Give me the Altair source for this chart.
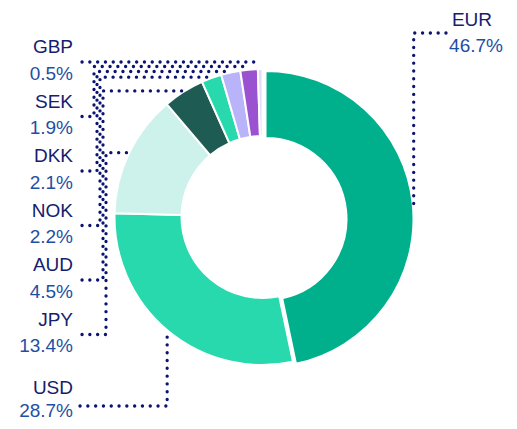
import math
import altair as alt
import pandas as pd

# ---------------- data ----------------
currencies = ["EUR", "USD", "JPY", "AUD", "NOK", "DKK", "SEK", "GBP"]
shares = [46.7, 28.7, 13.4, 4.5, 2.2, 2.1, 1.9, 0.5]
slice_colors = ["#00b08d", "#28d9ae", "#cdf2eb", "#1e5b52",
                "#28d9ae", "#b9b3fa", "#9b52d0", "#e1dcfc"]
# left column of labels, top to bottom
left_order = ["GBP", "SEK", "DKK", "NOK", "AUD", "JPY"]

# ---------------- layout ----------------
W, H = 501, 413
CX, CY = 254.5, 209.0
R_OUT, R_IN = 148, 81
EXPLODE = (3.0, 2.0)           # EUR slice pulled out a little
NAME_COLOR = "#14206e"
PCT_COLOR = "#1f4fa3"
DOT_COLOR = "#0b1470"
FONT = "Liberation Sans"
FS = 19

total = sum(shares)
mid_angle = {}
cum = 0.0
for c, s in zip(currencies, shares):
    mid_angle[c] = 2 * math.pi * (cum + s / 2) / total
    cum += s


def anchor(c, r=R_OUT + 1):
    a = mid_angle[c]
    dx, dy = EXPLODE if c == "EUR" else (0.0, 0.0)
    return CX + dx + r * math.sin(a), CY + dy - r * math.cos(a)


# label positions
name_y = {}
for i, c in enumerate(left_order):
    name_y[c] = 39 + i * 54.5
name_y["USD"] = 380
LEFT_TEXT_X = 65

pct_of = {c: f"{s:.1f}%" for c, s in zip(currencies, shares)}

texts_right = []
for c in left_order + ["USD"]:
    ny = name_y[c]
    py = ny + (23 if c == "USD" else 26.5)
    texts_right.append({"x": LEFT_TEXT_X, "y": ny, "t": c, "col": NAME_COLOR})
    texts_right.append({"x": LEFT_TEXT_X, "y": py, "t": pct_of[c], "col": PCT_COLOR})
texts_center = [
    {"x": 464, "y": 12, "t": "EUR", "col": NAME_COLOR},
    {"x": 468, "y": 38, "t": pct_of["EUR"], "col": PCT_COLOR},
]

# connector paths
paths = []
ays = {}
nxt = None
for c in reversed(left_order):
    ax, ay = anchor(c)
    if nxt is not None:
        ay = min(ay, nxt - 5)
    ays[c] = (ax, ay)
    nxt = ay
vxs = {"GBP": 86, "SEK": 86, "DKK": 89, "NOK": 92, "AUD": 95, "JPY": 98}
for c in left_order:
    ly = name_y[c] + 15
    ax, ay = ays[c]
    if c == "GBP":
        ay = ly
    pts = [(74, ly), (vxs[c], ly), (vxs[c], ay), (ax, ay)]
    for k, (px, py) in enumerate(pts):
        paths.append({"id": c, "k": k, "x": px, "y": py})
# USD
ax, ay = anchor("USD")
ly = 398
for k, (px, py) in enumerate([(72, ly), (ax, ly), (ax, ay)]):
    paths.append({"id": "USD", "k": k, "x": px, "y": py})
# EUR
ax, ay = anchor("EUR")
for k, (px, py) in enumerate([(ax, ay), (ax, 25), (ax + 36, 25)]):
    paths.append({"id": "EUR", "k": k, "x": px, "y": py})

df = pd.DataFrame({"currency": currencies, "share": shares,
                   "idx": list(range(len(currencies)))})

xs = alt.Scale(domain=[0, W], range=[0, W])
ys = alt.Scale(domain=[0, H], range=[0, H])

color = alt.Color("currency:N", scale=alt.Scale(domain=currencies, range=slice_colors),
                  legend=None)


def arcs(cx, cy, show_eur):
    test = "datum.currency == 'EUR'" if show_eur else "datum.currency != 'EUR'"
    return alt.Chart(df).mark_arc(innerRadius=R_IN, outerRadius=R_OUT,
                                  stroke="white", strokeWidth=2).encode(
        theta=alt.Theta("share:Q", stack=True),
        order=alt.Order("idx:Q"),
        color=color,
        opacity=alt.condition(test, alt.value(1), alt.value(0)),
        x=alt.value(cx), y=alt.value(cy),
    )


arc_main = arcs(CX, CY, False)
arc_eur = arcs(CX + EXPLODE[0], CY + EXPLODE[1], True)

lines = alt.Chart(pd.DataFrame(paths)).mark_line(
    strokeDash=[0.1, 7.7], strokeCap="round", strokeWidth=3.3, color=DOT_COLOR
).encode(
    x=alt.X("x:Q", scale=xs, axis=None),
    y=alt.Y("y:Q", scale=ys, axis=None),
    detail="id:N",
    order="k:Q",
)

txt_r = alt.Chart(pd.DataFrame(texts_right)).mark_text(
    align="right", baseline="middle", font=FONT, fontSize=FS
).encode(
    x=alt.X("x:Q", scale=xs, axis=None),
    y=alt.Y("y:Q", scale=ys, axis=None),
    text="t:N",
    color=alt.Color("col:N", scale=None),
)

txt_c = alt.Chart(pd.DataFrame(texts_center)).mark_text(
    align="center", baseline="middle", font=FONT, fontSize=FS
).encode(
    x=alt.X("x:Q", scale=xs, axis=None),
    y=alt.Y("y:Q", scale=ys, axis=None),
    text="t:N",
    color=alt.Color("col:N", scale=None),
)

chart = alt.layer(arc_main, arc_eur, lines, txt_r, txt_c).resolve_scale(
    color="independent"
).properties(
    width=W, height=H, padding=0, autosize="none"
).configure_view(stroke=None)

chart.save("out.html", embed_options={"renderer": "svg", "actions": False})
